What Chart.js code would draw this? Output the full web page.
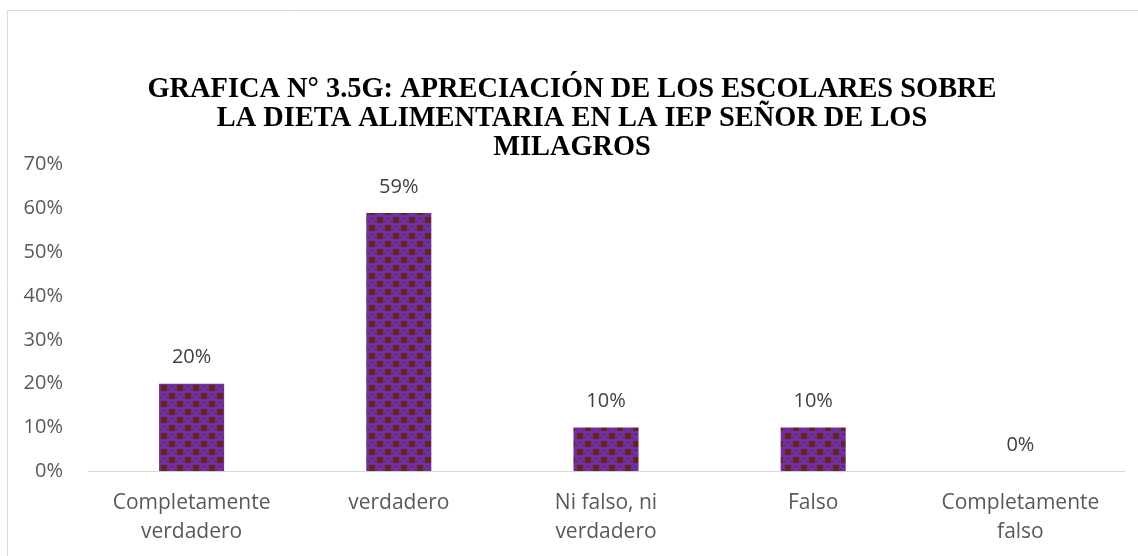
<!DOCTYPE html>
<html>
<head>
<meta charset="utf-8">
<script src="https://cdn.jsdelivr.net/npm/chart.js@4"></script>
<style>
html,body{margin:0;padding:0;background:#fff;}
#wrap{width:1138px;height:556px;position:relative;}
</style>
</head>
<body>
<div id="wrap"><canvas id="c" width="1138" height="556"></canvas></div>
<script>
const titleLines = ["GRAFICA N° 3.5G: APRECIACIÓN DE LOS ESCOLARES SOBRE", "LA DIETA ALIMENTARIA EN LA IEP SEÑOR DE LOS", "MILAGROS"];
const categories = [["Completamente", "verdadero"], "verdadero", ["Ni falso, ni", "verdadero"], "Falso", ["Completamente", "falso"]];
const values = [0.20, 0.59, 0.10, 0.10, 0.00];
const yTicks = [0, 0.1, 0.2, 0.3, 0.4, 0.5, 0.6, 0.7];

const TITLE_FONT = { family: '"Liberation Serif"', size: 28.4, weight: 'bold', lineHeight: 1.03 };

function makePattern() {
  const t = document.createElement('canvas');
  t.width = 16; t.height = 16;
  const g = t.getContext('2d');
  g.fillStyle = '#7030A0';
  g.fillRect(0, 0, 16, 16);
  g.fillStyle = '#632523';
  g.fillRect(1, 1, 6, 6);
  g.fillRect(9, 9, 6, 6);
  g.fillRect(10, 2, 3, 1);
  g.fillRect(2, 10, 3, 1);
  g.fillRect(8, 5, 1, 1);
  g.fillRect(15, 5, 1, 1);
  g.fillRect(0, 13, 1, 1);
  g.fillRect(7, 13, 1, 1);
  return g.createPattern(t, 'repeat');
}

const frame = {
  id: 'frame',
  beforeDraw(chart) {
    const ctx = chart.ctx;
    ctx.save();
    ctx.strokeStyle = '#d9d9d9';
    ctx.lineWidth = 1;
    ctx.beginPath();
    ctx.moveTo(7.5, 600);
    ctx.lineTo(7.5, 10.5);
    ctx.lineTo(1200, 10.5);
    ctx.stroke();
    ctx.restore();
  }
};

// Draws the title centred on the chart frame (the built-in title reserves the space)
const centredTitle = {
  id: 'centredTitle',
  afterDraw(chart) {
    const tb = chart.titleBlock;
    const ctx = chart.ctx;
    const lh = TITLE_FONT.size * TITLE_FONT.lineHeight;
    ctx.save();
    ctx.fillStyle = '#000';
    ctx.font = 'bold ' + TITLE_FONT.size + 'px ' + TITLE_FONT.family;
    ctx.textAlign = 'center';
    ctx.textBaseline = 'middle';
    const top = tb.top + 75;
    titleLines.forEach((line, i) => {
      ctx.fillText(line, 572, top + lh / 2 + i * lh);
    });
    ctx.restore();
  }
};

const dataLabels = {
  id: 'dataLabels',
  afterDatasetsDraw(chart) {
    const ctx = chart.ctx;
    const meta = chart.getDatasetMeta(0);
    ctx.save();
    ctx.fillStyle = '#404040';
    ctx.font = '20px "Open Sans"';
    ctx.textAlign = 'center';
    ctx.textBaseline = 'middle';
    meta.data.forEach((bar, i) => {
      ctx.fillText(Math.round(values[i] * 100) + '%', bar.x, bar.y - 26);
    });
    ctx.restore();
  }
};

new Chart(document.getElementById('c'), {
  type: 'bar',
  data: {
    labels: categories,
    datasets: [{
      data: values,
      backgroundColor: makePattern(),
      borderWidth: 0,
      barPercentage: 0.314,
      categoryPercentage: 1
    }]
  },
  options: {
    responsive: false,
    animation: false,
    events: [],
    layout: { padding: { top: 0, left: 0, right: 14, bottom: -8 } },
    plugins: {
      legend: { display: false },
      tooltip: { enabled: false },
      title: {
        display: true,
        text: titleLines,
        color: 'rgba(0,0,0,0)',
        font: TITLE_FONT,
        padding: { top: 73, bottom: 4 }
      }
    },
    scales: {
      x: {
        grid: { display: false, drawTicks: false },
        border: { display: true, color: '#d9d9d9', width: 1 },
        ticks: {
          color: '#595959',
          font: { family: '"Open Sans"', size: 21, lineHeight: 1.35 },
          padding: 18,
          maxRotation: 0,
          autoSkip: false
        }
      },
      y: {
        min: 0,
        max: 0.7,
        afterFit(s) { s.width = 88; },
        afterBuildTicks(s) { s.ticks = yTicks.map(v => ({ value: v })); },
        grid: { display: false, drawTicks: false },
        border: { display: false },
        ticks: {
          color: '#595959',
          font: { family: '"Open Sans"', size: 20 },
          padding: 25,
          callback: v => Math.round(v * 100) + '%'
        }
      }
    }
  },
  plugins: [frame, centredTitle, dataLabels]
});
</script>
</body>
</html>
